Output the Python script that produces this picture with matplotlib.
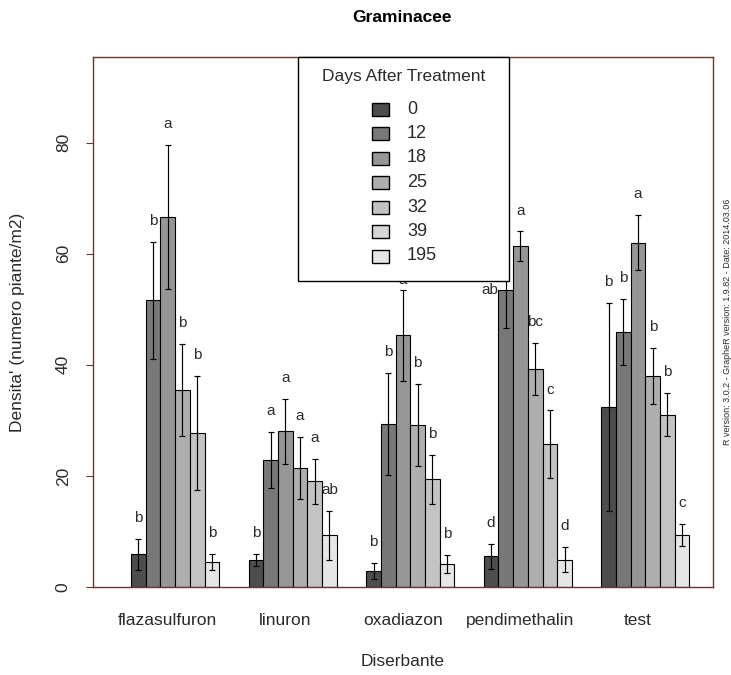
import numpy as np
import matplotlib
matplotlib.use("Agg")
import matplotlib.pyplot as plt
from matplotlib.patches import Rectangle

plt.rcParams['font.family'] = ['Liberation Sans', 'DejaVu Sans']
plt.rcParams['text.color'] = '#2b2b2b'
plt.rcParams['xtick.labelcolor'] = '#2b2b2b'
plt.rcParams['ytick.labelcolor'] = '#2b2b2b'

# === Data ===
herbicides = ["flazasulfuron", "linuron", "oxadiazon", "pendimethalin", "test"]
days = ["0", "12", "18", "25", "32", "39", "195"]

# mean weed density (plants/m2) per sampling date
dens_0 = [5.9, 4.9, 2.9, 5.5, 32.4]
dens_12 = [51.6, 22.8, 29.4, 53.5, 45.9]
dens_18 = [66.6, 28.0, 45.3, 61.3, 62.0]
dens_25 = [35.5, 21.4, 29.2, 39.3, 38.0]
dens_32 = [27.7, 19.0, 19.4, 25.7, 31.0]
dens_195 = [4.5, 9.3, 4.1, 4.9, 9.3]

# standard errors
se_0 = [2.8, 1.1, 1.5, 2.2, 18.8]
se_12 = [10.5, 5.05, 9.2, 6.9, 6.0]
se_18 = [12.9, 5.8, 8.2, 2.7, 4.9]
se_25 = [8.3, 5.6, 7.4, 4.7, 5.0]
se_32 = [10.3, 4.1, 4.4, 6.1, 3.9]
se_195 = [1.45, 4.45, 1.6, 2.25, 2.0]

# mean separation letters
let_0 = ["b", "b", "b", "d", "b"]
let_12 = ["b", "a", "b", "ab", "b"]
let_18 = ["a", "a", "a", "a", "a"]
let_25 = ["b", "a", "b", "bc", "b"]
let_32 = ["b", "a", "b", "c", "b"]
let_195 = ["b", "ab", "b", "d", "c"]

series = [
    ("0", dens_0, se_0, let_0),
    ("12", dens_12, se_12, let_12),
    ("18", dens_18, se_18, let_18),
    ("25", dens_25, se_25, let_25),
    ("32", dens_32, se_32, let_32),
    ("195", dens_195, se_195, let_195),
]

# R-style gray.colors(7)
levels = np.linspace(0.3 ** 2.2, 0.9 ** 2.2, len(days)) ** (1 / 2.2)
grays = [(v, v, v) for v in levels]

frame_col = "#643a2c"
n_slot = len(days) + 1  # bars per group + one spacer

fig = plt.figure(figsize=(7.31, 6.75), dpi=100)
ax = fig.add_axes([93 / 731, 1 - 587 / 675, 620 / 731, 530 / 675])

tops = []
for s, (day, vals, ses, lets) in enumerate(series):
    col = grays[days.index(day)]
    xs = [1 + n_slot * g + s + 0.5 for g in range(len(herbicides))]
    ax.bar(xs, vals, width=1, color=col, edgecolor="black", linewidth=0.8, zorder=2)
    ax.errorbar(xs, vals, yerr=ses, fmt="none", ecolor="black", elinewidth=0.85,
                capsize=2, capthick=0.85, zorder=3)
    for g, (x, v, e, l) in enumerate(zip(xs, vals, ses, lets)):
        tops.append(v + e)
        if (day, g) == ("12", 3):
            # label pushed next to the bar (top is under the legend)
            ax.text(x - 0.5, v, l, ha="right", va="center", fontsize=11, zorder=4)
        elif (day, g) == ("18", 2):
            ax.annotate(l, (x, v + e), xytext=(0, 7), textcoords="offset points",
                        ha="center", va="center", fontsize=11, zorder=4)
        else:
            ax.annotate(l, (x, v + e), xytext=(0, 15), textcoords="offset points",
                        ha="center", va="center", fontsize=11, zorder=4)

ax.set_xlim(-1.59, 40.6)
ax.set_ylim(0, 1.2 * max(tops))

centers = [1 + n_slot * g + 2.5 for g in range(len(herbicides))]
ax.set_xticks(centers)
ax.set_xticklabels(herbicides, fontsize=12.5)
ax.tick_params(axis="x", length=0, pad=19)
ax.set_yticks([0, 20, 40, 60, 80])
ax.tick_params(axis="y", length=5, width=0.8, color=frame_col, pad=11,
               labelsize=12.5, labelrotation=90)
for lab in ax.get_yticklabels():
    lab.set_va("center")
for sp in ax.spines.values():
    sp.set_color(frame_col)
    sp.set_linewidth(1.0)

# legend box
lx0, lx1 = (298 - 93) / 620, (509 - 93) / 620
ly0 = (587 - 281) / 530
ax.add_patch(Rectangle((lx0, ly0), lx1 - lx0, 1 - ly0, transform=ax.transAxes,
                       facecolor="white", edgecolor="black", linewidth=1.0,
                       zorder=10, clip_on=False))
ax.text((lx0 + lx1) / 2, (587 - 76) / 530, "Days After Treatment", transform=ax.transAxes,
        ha="center", va="center", fontsize=12.5, zorder=11)
for i, day in enumerate(days):
    yc = (587 - (109 + 24.5 * i)) / 530
    ax.add_patch(Rectangle((279 / 620, yc - 6.5 / 530), 17 / 620, 13 / 530,
                           transform=ax.transAxes, facecolor=grays[i],
                           edgecolor="black", linewidth=1.0, zorder=11, clip_on=False))
    ax.text(314 / 620, yc, day, transform=ax.transAxes, ha="left", va="center",
            fontsize=13, zorder=11)

fig.text(402 / 731, 1 - 18 / 675, "Graminacee", ha="center", va="center",
         fontsize=12.5, fontweight="bold", color="black")
fig.text(403 / 731, 1 - 661 / 675, "Diserbante", ha="center", va="center", fontsize=12.5)
fig.text(18 / 731, 1 - 322 / 675, "Densita' (numero piante/m2)", ha="center", va="center",
         rotation=90, fontsize=12.5)
fig.text(727 / 731, 1 - 322 / 675,
         "R version: 3.0.2 - GrapheR version: 1.9.82 - Date: 2014.03.06",
         ha="center", va="center", rotation=90, fontsize=6.5)

fig.savefig("out.png", dpi=100)
